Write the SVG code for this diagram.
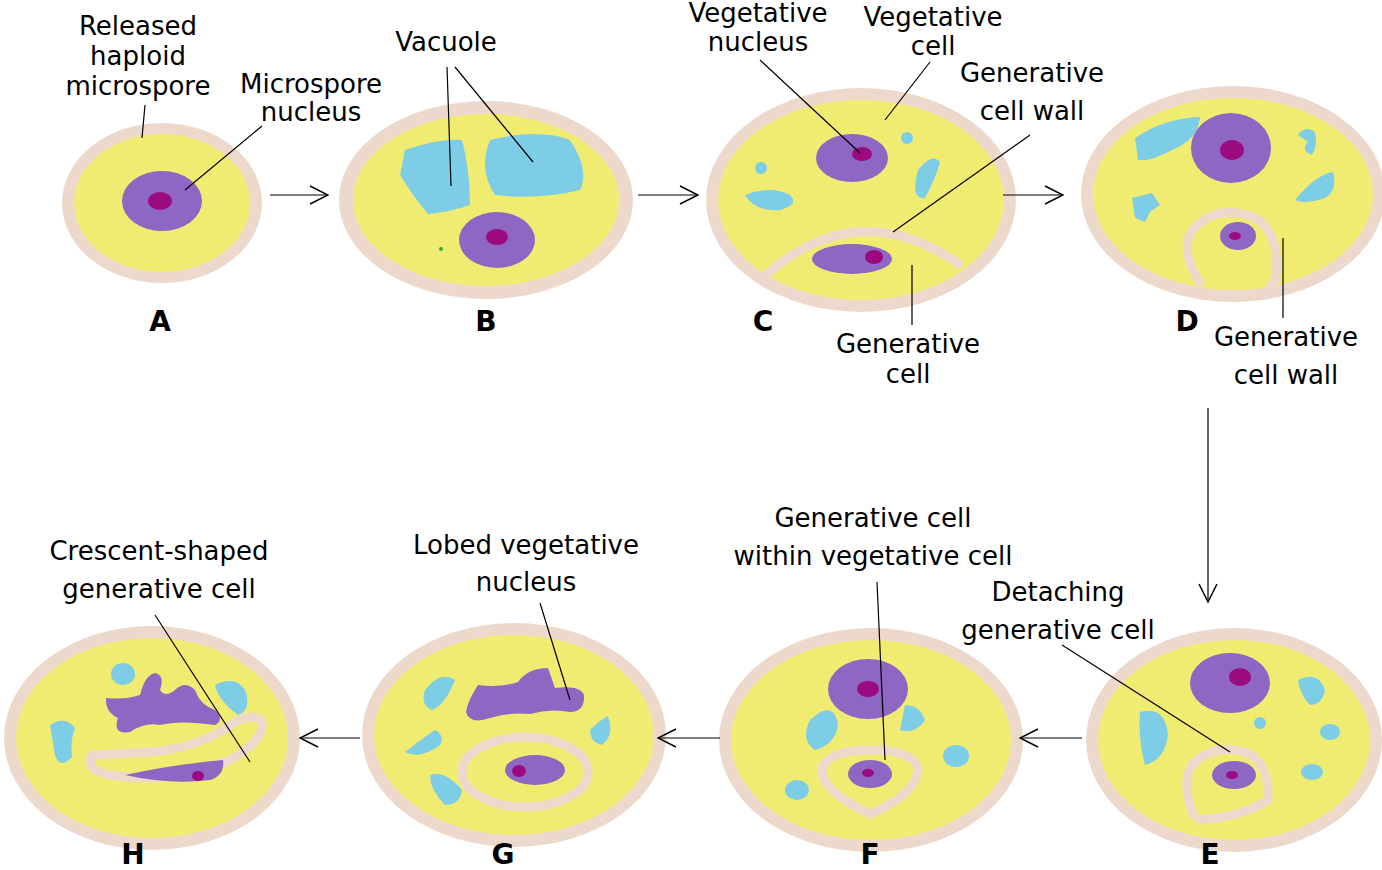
<svg xmlns="http://www.w3.org/2000/svg" width="1382" height="870" viewBox="0 0 1382 870">
<style>
.w{fill:#ecd9cb}.c{fill:#f0ec72}.v{fill:#7ecde6}.n{fill:#8e66c4}.o{fill:#9b0a7e}
.t{font-family:"DejaVu Sans",sans-serif;font-size:26px;fill:#000;text-anchor:middle}
.b{font-family:"DejaVu Sans",sans-serif;font-size:28px;font-weight:bold;text-anchor:middle}
.l{stroke:#000;stroke-width:1.2;fill:none}
.gw{fill:none;stroke:#ecd9cb;stroke-width:9}
</style>
<defs><marker id="ah" viewBox="0 0 20 20" refX="19" refY="10" markerWidth="20" markerHeight="20" markerUnits="userSpaceOnUse" orient="auto"><path d="M1,1 L19,10 L1,19" fill="none" stroke="#000" stroke-width="1.5"/></marker></defs>
<rect width="1382" height="870" fill="#fff"/>
<g id="A"><ellipse class="w" cx="162" cy="203" rx="100" ry="80"/><ellipse class="c" cx="162" cy="203" rx="88" ry="69"/><ellipse class="n" cx="162" cy="201" rx="40" ry="30"/><ellipse class="o" cx="160" cy="201" rx="12" ry="9"/></g>
<g id="B"><ellipse class="w" cx="486" cy="200" rx="147" ry="99"/><ellipse class="c" cx="486" cy="200" rx="133" ry="86"/>
<path class="v" d="M405,150 Q440,138 462,140 Q470,170 470,205 Q450,212 428,214 Q412,195 400,175 Z"/>
<path class="v" d="M490,140 Q540,128 570,140 Q590,170 580,190 Q540,200 495,195 Q478,170 490,140 Z"/>
<ellipse class="n" cx="497" cy="240" rx="38" ry="28"/><ellipse class="o" cx="497" cy="237" rx="11" ry="8"/><circle cx="441" cy="249" r="2" fill="#3a3"/></g>
<g id="C"><ellipse class="w" cx="861" cy="200" rx="155" ry="112"/><ellipse class="c" cx="861" cy="200" rx="143" ry="100"/>
<path class="gw" d="M758,282 Q855,190 962,266" stroke-width="10"/>
<ellipse class="n" cx="852" cy="158" rx="36" ry="24"/><ellipse class="o" cx="862" cy="154" rx="10" ry="7"/>
<ellipse class="n" cx="852" cy="259" rx="40" ry="15"/><ellipse class="o" cx="874" cy="257" rx="9" ry="7"/>
<circle class="v" cx="761" cy="168" r="6"/><circle class="v" cx="907" cy="138" r="6"/>
<path class="v" d="M745,195 Q770,185 790,195 Q800,205 780,210 Q755,212 745,195 Z"/>
<path class="v" d="M918,170 Q932,152 940,162 Q935,180 925,198 Q910,200 918,170 Z"/></g>
<g id="D"><ellipse class="w" cx="1233" cy="194" rx="152" ry="108"/><ellipse class="c" cx="1233" cy="194" rx="140" ry="96"/>
<path class="gw" d="M1202,286 Q1165,230 1220,213 Q1282,207 1276,278 L1268,290"/>
<ellipse class="n" cx="1231" cy="148" rx="40" ry="35"/><ellipse class="o" cx="1232" cy="150" rx="12" ry="10"/>
<ellipse class="n" cx="1238" cy="236" rx="18" ry="14"/><ellipse class="o" cx="1235" cy="236" rx="6" ry="4"/>
<path class="v" d="M1135,138 Q1165,118 1200,117 Q1198,140 1172,150 Q1150,162 1138,160 Z"/>
<path class="v" d="M1298,135 Q1305,125 1315,132 Q1318,145 1312,155 Q1300,150 1308,142 Z"/>
<path class="v" d="M1295,200 Q1315,175 1333,172 Q1338,190 1325,198 Q1305,205 1295,200 Z"/>
<path class="v" d="M1132,198 L1152,193 L1160,205 L1150,212 L1145,222 L1135,218 Z"/></g>
<g id="E"><ellipse class="w" cx="1234" cy="740" rx="148" ry="112"/><ellipse class="c" cx="1234" cy="740" rx="136" ry="100"/>
<path class="gw" d="M1195,818 Q1170,760 1220,750 Q1270,745 1268,800 Q1240,818 1195,820"/>
<ellipse class="n" cx="1230" cy="683" rx="40" ry="30"/><ellipse class="o" cx="1240" cy="677" rx="11" ry="9"/>
<ellipse class="n" cx="1234" cy="775" rx="22" ry="14"/><ellipse class="o" cx="1232" cy="775" rx="6" ry="4"/>
<path class="v" d="M1140,712 Q1165,705 1168,735 Q1165,760 1145,765 Q1138,740 1140,712 Z"/>
<path class="v" d="M1298,680 Q1318,670 1325,690 Q1322,705 1310,705 Q1300,695 1298,680 Z"/>
<circle class="v" cx="1260" cy="723" r="6"/><ellipse class="v" cx="1330" cy="732" rx="10" ry="8"/><ellipse class="v" cx="1312" cy="772" rx="11" ry="8"/></g>
<g id="F"><ellipse class="w" cx="871" cy="740" rx="152" ry="112"/><ellipse class="c" cx="871" cy="740" rx="140" ry="100"/>
<path class="gw" d="M870,814 Q820,790 822,768 Q830,750 870,750 Q915,750 918,770 Q915,795 870,814 Z"/>
<ellipse class="n" cx="868" cy="689" rx="40" ry="30"/><ellipse class="o" cx="868" cy="689" rx="11" ry="8"/>
<ellipse class="n" cx="870" cy="774" rx="22" ry="14"/><ellipse class="o" cx="868" cy="773" rx="6" ry="4"/>
<path class="v" d="M820,712 Q835,705 838,725 Q835,745 815,750 Q800,740 810,720 Z"/>
<path class="v" d="M905,705 Q920,705 925,720 Q915,735 900,730 Z"/>
<ellipse class="v" cx="797" cy="790" rx="12" ry="10"/><ellipse class="v" cx="956" cy="756" rx="13" ry="11"/></g>
<g id="G"><ellipse class="w" cx="514" cy="735" rx="152" ry="112"/><ellipse class="c" cx="514" cy="735" rx="140" ry="100"/>
<ellipse class="gw" cx="525" cy="772" rx="63" ry="35"/>
<path class="n" d="M478,685 Q500,688 518,682 Q528,668 548,668 L555,688 Q580,685 584,695 Q585,712 570,712 Q550,708 530,714 Q510,712 490,718 Q470,725 466,712 Q468,700 478,685 Z"/>
<ellipse class="n" cx="535" cy="770" rx="30" ry="15"/><ellipse class="o" cx="519" cy="771" rx="7" ry="6"/>
<path class="v" d="M425,690 Q440,670 455,680 Q445,705 432,710 Q420,705 425,690 Z"/>
<path class="v" d="M405,752 Q420,740 435,730 Q445,735 440,745 Q420,760 405,752 Z"/>
<path class="v" d="M430,775 Q445,770 462,790 Q460,805 445,805 Q430,790 430,775 Z"/>
<path class="v" d="M590,730 Q600,720 608,716 Q615,735 602,745 Q590,742 590,730 Z"/></g>
<g id="H"><ellipse class="w" cx="152" cy="738" rx="148" ry="112"/><ellipse class="c" cx="152" cy="738" rx="136" ry="100"/>
<path class="gw" d="M92,755 Q84,770 110,775 Q170,785 230,760 Q265,740 262,722 Q255,712 235,722 Q200,748 150,752 Q110,754 92,755 Z"/>
<path class="n" d="M106,698 Q125,700 140,695 Q145,675 155,673 Q165,675 160,690 Q165,698 175,690 Q185,680 195,690 Q200,705 215,710 Q225,720 215,725 Q180,720 160,725 Q145,722 130,732 Q112,735 118,718 Q105,712 106,698 Z"/>
<path class="n" d="M125,775 Q170,765 223,760 Q225,775 210,780 Q170,785 125,775 Z"/><ellipse class="o" cx="198" cy="776" rx="6" ry="5"/>
<ellipse class="v" cx="123" cy="674" rx="12" ry="11"/>
<path class="v" d="M215,685 Q235,675 245,690 Q252,710 238,715 Q218,700 215,685 Z"/>
<path class="v" d="M50,725 Q65,715 75,728 Q70,740 72,757 Q60,770 55,755 Z"/></g>
<g id="connectors">
<line class="l" x1="270" y1="195" x2="328" y2="195" marker-end="url(#ah)"/>
<line class="l" x1="638" y1="195" x2="698" y2="195" marker-end="url(#ah)"/>
<line class="l" x1="1003" y1="195" x2="1063" y2="195" marker-end="url(#ah)"/>
<line class="l" x1="1208" y1="408" x2="1208" y2="602" marker-end="url(#ah)"/>
<line class="l" x1="1082" y1="738" x2="1020" y2="738" marker-end="url(#ah)"/>
<line class="l" x1="720" y1="738" x2="658" y2="738" marker-end="url(#ah)"/>
<line class="l" x1="360" y1="738" x2="300" y2="738" marker-end="url(#ah)"/>
<path class="l" d="M145,105 L142,138 M262,126 L185,190 M447,67 L451,186 M455,67 L533,162 M760,60 L860,153 M930,62 L885,120 M1030,135 L893,232 M912,265 L912,325 M1283,238 L1283,318 M1062,645 L1230,752 M877,582 L885,760 M540,603 L570,700 M155,615 L250,762"/>
</g>
<g id="labels">
<text class="t" x="138" y="35">Released</text><text class="t" x="138" y="65">haploid</text><text class="t" x="138" y="95">microspore</text>
<text class="t" x="311" y="93">Microspore</text><text class="t" x="311" y="121">nucleus</text>
<text class="t" x="446" y="51">Vacuole</text>
<text class="t" x="758" y="22">Vegetative</text><text class="t" x="758" y="51">nucleus</text>
<text class="t" x="933" y="26">Vegetative</text><text class="t" x="933" y="55">cell</text>
<text class="t" x="1032" y="82">Generative</text><text class="t" x="1032" y="120">cell wall</text>
<text class="t" x="908" y="353">Generative</text><text class="t" x="908" y="383">cell</text>
<text class="t" x="1286" y="346">Generative</text><text class="t" x="1286" y="384">cell wall</text>
<text class="t" x="1058" y="601">Detaching</text><text class="t" x="1058" y="639">generative cell</text>
<text class="t" x="873" y="527">Generative cell</text><text class="t" x="873" y="565">within vegetative cell</text>
<text class="t" x="526" y="554">Lobed vegetative</text><text class="t" x="526" y="591">nucleus</text>
<text class="t" x="159" y="560">Crescent-shaped</text><text class="t" x="159" y="598">generative cell</text>
<text class="b" x="160" y="331">A</text><text class="b" x="486" y="331">B</text><text class="b" x="763" y="331">C</text><text class="b" x="1187" y="331">D</text>
<text class="b" x="1210" y="864">E</text><text class="b" x="870" y="864">F</text><text class="b" x="503" y="864">G</text><text class="b" x="133" y="864">H</text>
</g>
</svg>
